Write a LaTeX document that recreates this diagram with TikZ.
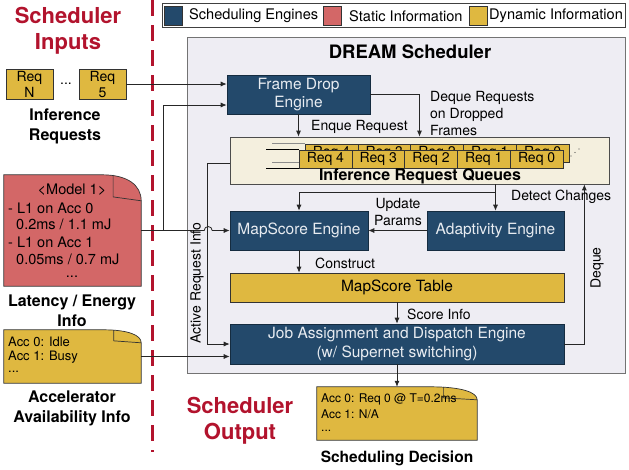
\documentclass[tikz,border=0pt]{standalone}
\usepackage{fontspec}
\setmainfont{TeX Gyre Heros}
\usetikzlibrary{arrows.meta,calc}

\definecolor{engblue}{RGB}{35,73,107}
\definecolor{engtext}{RGB}{232,236,241}
\definecolor{statred}{RGB}{211,103,103}
\definecolor{dynyellow}{RGB}{223,184,64}
\definecolor{queuecream}{RGB}{244,239,222}
\definecolor{panelgray}{RGB}{238,237,243}
\definecolor{titlered}{RGB}{178,19,45}

\newcommand\fsz[2]{\fontsize{#1}{#2}\selectfont}

% document shape with a folded top-right corner, drawn around an empty node
\newcommand\docshape[4]{%
  \draw[docline, fill=#4] (#1.south west) -- (#1.north west)
    -- ($(#1.north east)+(-#2,0)$)
    .. controls ($(#1.north east)+(-0.35*#2,0)$) and ($(#1.north east)+(0,0.4*#3)$)
    .. ($(#1.north east)+(0,#3)$) -- (#1.south east) -- cycle;
  \draw[docline] ($(#1.north east)+(-0.72*#2,0)$) -- ($(#1.north east)+(-0.72*#2,0.85*#3)$)
    -- ($(#1.north east)+(0,#3)$);
}

\tikzset{
  engine/.style={draw=engblue!60!black, fill=engblue, text=engtext, font=\fsz{15.5}{18.5},
    align=center, inner sep=0pt, line width=0.6pt},
  dynbox/.style={draw=black!80, fill=dynyellow, inner sep=0pt, line width=0.6pt},
  cell/.style={dynbox, minimum width=52.8, minimum height=18, font=\fsz{14}{16}},
  swatch/.style={draw=black!80, inner sep=0pt, minimum width=18, minimum height=19, line width=0.6pt},
  lbl/.style={font=\fsz{14}{17}, inner sep=0pt},
  legtext/.style={font=\fsz{14.6}{17}, inner sep=0pt, anchor=west},
  doctext/.style={inner sep=0pt},
  capt/.style={font=\bfseries\fsz{16}{20}, align=center, inner sep=0pt},
  redtitle/.style={text=titlered, font=\bfseries\fsz{22}{26}, align=center, inner sep=0pt},
  arr/.style={draw=black!85, line width=0.8pt, -{Latex[length=6pt,width=5pt]}},
  docline/.style={draw=black!80, line width=0.7pt},
}

\begin{document}
\begin{tikzpicture}[x=1pt,y=-1pt]
\useasboundingbox (0,0) rectangle (629,469);

% divider between inputs and scheduler
\draw[titlered, line width=3pt, dash pattern=on 16pt off 9pt] (152,0) -- (152,452);

% legend
\node[draw=black!75, line width=0.8pt, fill=white, minimum width=463, minimum height=24, inner sep=0] (legend) at (393.5,15) {};
\node[swatch, fill=engblue] (swE) at (173,15.5) {};
\node[legtext] at (189,16) {Scheduling Engines};
\node[swatch, fill=statred] (swS) at (332,15.5) {};
\node[legtext] at (349,16) {Static Information};
\node[swatch, fill=dynyellow] (swD) at (478.5,15.5) {};
\node[legtext] at (489,16) {Dynamic Information};

% scheduler panel
\node[draw=black!55, fill=panelgray, line width=0.8pt, minimum width=438, minimum height=336, inner sep=0] (panel) at (406,205) {};
\node[font=\bfseries\fsz{18.5}{22}, inner sep=0] at (410,52) {DREAM Scheduler};

% titles
\node[redtitle] at (68,31) {Scheduler\\Inputs};
\node[redtitle] at (240,421) {Scheduler\\Output};

% incoming requests
\node[dynbox, minimum width=47, minimum height=30, align=center, font=\fsz{14}{16}] (rqN) at (29.5,84) {Req\\N};
\node[dynbox, minimum width=47, minimum height=30, align=center, font=\fsz{14}{16}] (r5) at (102.5,84) {Req\\5};
\node[doctext, font=\fsz{14}{16}] at (66,84) {...};
\node[capt] at (65,126) {Inference\\Requests};

% latency / energy document
\node[inner sep=0, minimum width=137, minimum height=111] (lat) at (72.5,230.5) {};
\docshape{lat}{39}{26}{statred}
\node[doctext, font=\fsz{14.5}{17}] at (72,190) {<Model 1>};
\node[doctext, font=\fsz{14.5}{17}, anchor=west] at (8,208) {- L1 on Acc 0};
\node[doctext, font=\fsz{14.5}{17}, anchor=west] at (16,224) {0.2ms / 1.1 mJ};
\node[doctext, font=\fsz{14.5}{17}, anchor=west] at (8,242) {- L1 on Acc 1};
\node[doctext, font=\fsz{14.5}{17}, anchor=west] at (16,259) {0.05ms / 0.7 mJ};
\node[doctext, font=\fsz{14.5}{17}] at (72,277) {...};
\node[capt] at (72,310.5) {Latency / Energy\\Info};

% accelerator availability document
\node[inner sep=0, minimum width=137, minimum height=53] (acc) at (72.5,356.5) {};
\docshape{acc}{38}{13}{dynyellow}
\node[doctext, font=\fsz{13}{15}, anchor=west] at (8,342) {Acc 0: Idle};
\node[doctext, font=\fsz{13}{15}, anchor=west] at (8,357) {Acc 1: Busy};
\node[doctext, font=\fsz{13}{15}, anchor=west] at (8,372) {...};
\node[capt] at (72,408) {Accelerator\\Availability Info};

% inference request queues: a second queue peeks out behind the front one
\node[draw=black!70, fill=queuecream, line width=0.7pt, minimum width=379, minimum height=47, inner sep=0] (q) at (419.5,160.5) {};
\foreach \i in {0,...,4}
  \node[cell] (qb\i) at ({305+52.8*\i+26.4},153) {};
\begin{scope}
  \clip (305,140) rectangle (570,150);
  \foreach \i/\t in {0/4,1/3,2/2,3/1,4/0}
    \node[font=\fsz{14}{16}, inner sep=0] at (qb\i) {Req \t};
\end{scope}
\draw[black!45, line width=0.8pt] (qb0.north west) -- ++(-33,0);
\draw[black!45, line width=0.8pt] (qb0.south west) -- ++(-33,0);
\foreach \i/\t in {0/4,1/3,2/2,3/1,4/0}
  \node[cell] (qf\i) at ({299+52.8*\i+26.4},159) {Req \t};
\draw[black, line width=0.8pt] (qf0.north west) -- ++(-33,0);
\draw[black, line width=0.8pt] (qf0.south west) -- ++(-33,0);
\fill[black!70] (571,156) circle (0.7) (575,152.5) circle (0.7) (579,149) circle (0.7);
\node[font=\bfseries\fsz{16}{19}, inner sep=0] at (420,176) {Inference Request Queues};

% engines and table
\node[engine, minimum width=143, minimum height=39] (fd) at (298.5,94.5) {Frame Drop\\Engine};
\node[engine, minimum width=138, minimum height=39] (ms) at (299,230.5) {MapScore Engine};
\node[engine, minimum width=137, minimum height=39] (ad) at (495.5,230.5) {Adaptivity Engine};
\node[dynbox, minimum width=334, minimum height=29, font=\fsz{15.5}{18}] (tbl) at (397,287.5) {MapScore Table};
\node[engine, minimum width=334, minimum height=40] (job) at (397,344) {Job Assignment and Dispatch Engine\\(w/ Supernet switching)};

% scheduling decision document
\node[inner sep=0, minimum width=160, minimum height=53] (dec) at (397,413.5) {};
\docshape{dec}{47}{13}{dynyellow}
\node[doctext, font=\fsz{12}{14}, anchor=west] at (321,399) {Acc 0: Req 0 @ T=0.2ms};
\node[doctext, font=\fsz{12}{14}, anchor=west] at (321,414) {Acc 1: N/A};
\node[doctext, font=\fsz{12}{14}, anchor=west] at (321,431) {...};
\node[capt, font=\bfseries\fsz{15.5}{19}] at (397,458) {Scheduling Decision};

% connectors
\draw[arr] (r5.east) -- (r5.east -| fd.west);
\coordinate (latsplit) at ($(lat.east)+(22,0)$);
\draw[arr] (lat.east) -- ($(lat.east)+(63,0)$) arc[start angle=180, end angle=0, radius=4pt] -- (ms.west);
\draw[arr] (latsplit) |- ($(fd.west)+(0,10.5)$);
\draw[arr] (fd.south) -- (fd.south |- q.north);
\draw[arr] (fd.east) -| (q.north);
\coordinate (qsplit) at ($(ad.north |- q.south)+(0,8)$);
\draw[arr] (ad.north |- q.south) -- (ad.north);
\draw[arr] (qsplit) -| (ms.north);
\draw[arr] (ad.west) -- (ms.east);
\draw[arr] (ms.south) -- (tbl.north -| ms.south);
\draw[arr] (tbl.south) -- (job.north);
\draw[arr] (job.east) -| ($(q.south east)+(-25,0)$);
\draw[arr] ($(q.west)+(0,2.5)$) -- ++(-22,0) |- (job.west);
\draw[arr] (acc.east) -- (acc.east -| job.west);
\draw[arr] (job.south) -- (dec.north);

% connector labels
\node[lbl, anchor=west] at (311,127) {Enque Request};
\node[lbl, anchor=west, align=left] at (430,113) {Deque Requests\\on Dropped\\Frames};
\node[lbl, align=center] at (398,212) {Update\\Params};
\node[lbl, anchor=west] at (511,197) {Detect Changes};
\node[lbl, anchor=west] at (315,263) {Construct};
\node[lbl, anchor=west] at (407,314) {Score Info};
\node[lbl, rotate=90] at (597,268) {Deque};
\node[lbl, rotate=90] at (197,283) {Active Request Info};
\end{tikzpicture}
\end{document}
